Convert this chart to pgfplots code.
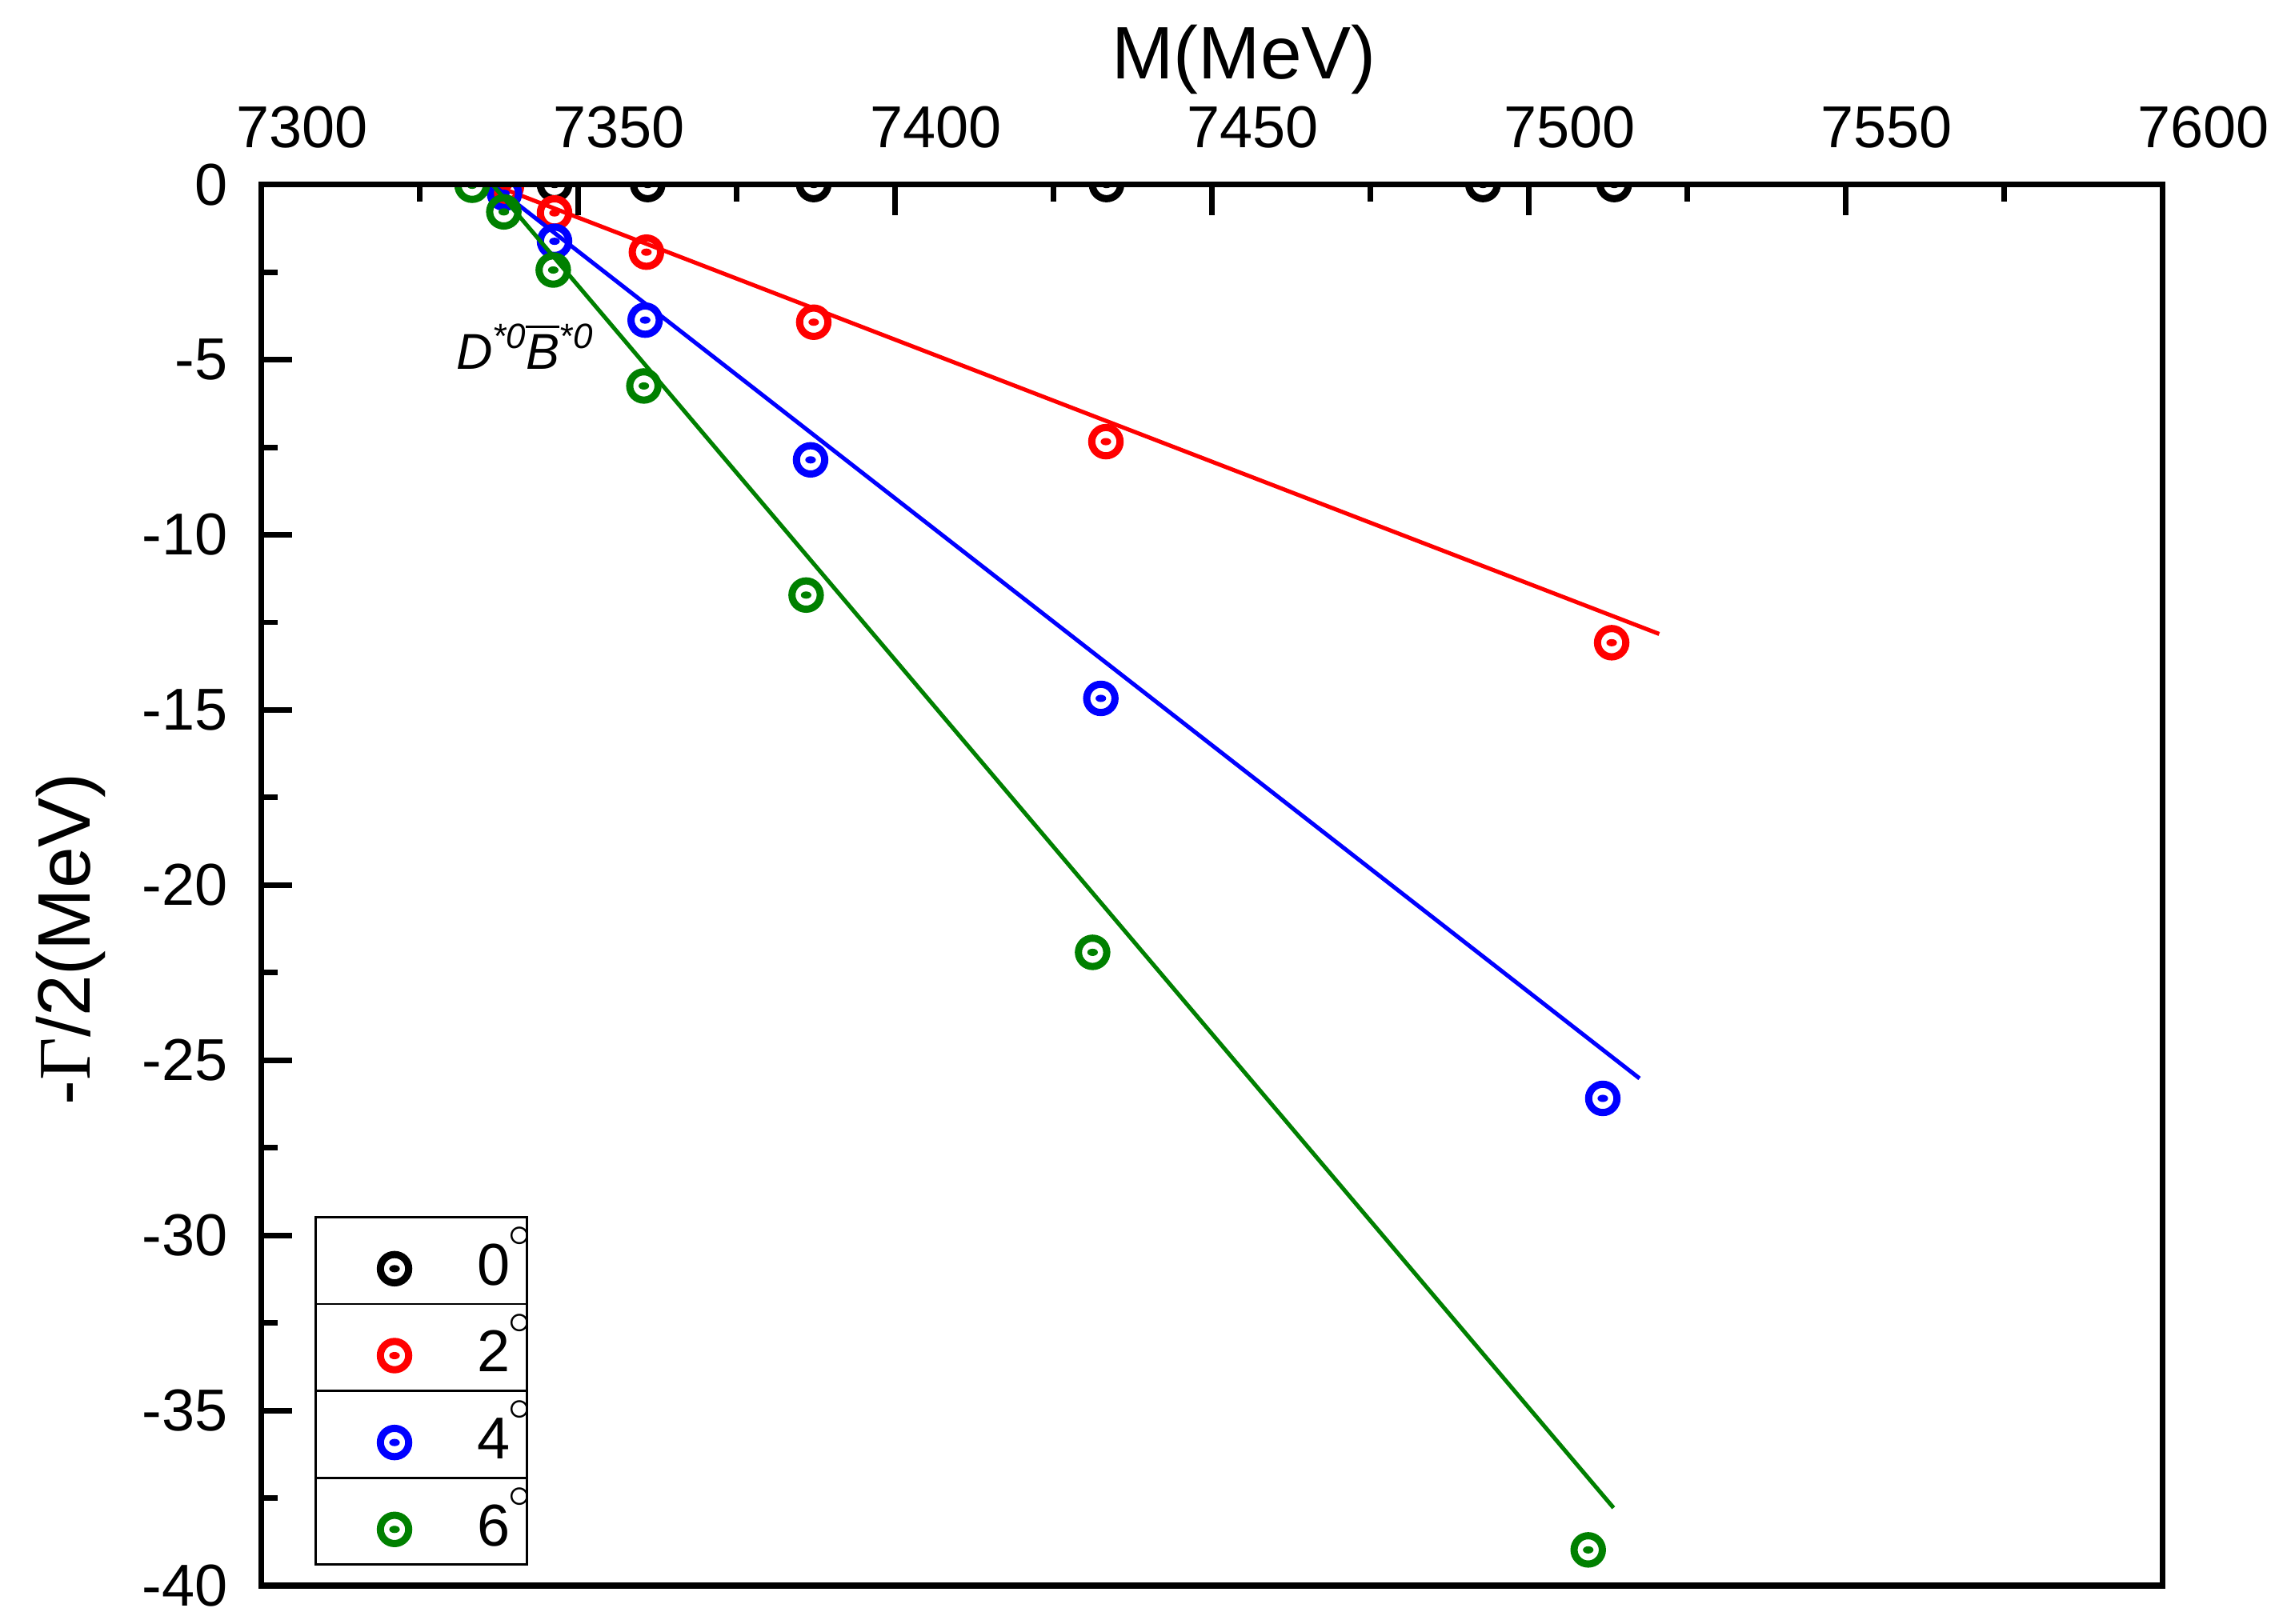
\documentclass[border=0pt]{standalone}
\usepackage{pgfplots}
\pgfplotsset{compat=1.18}
\usepackage{fontspec}
\setmainfont{Liberation Sans}
\newfontfamily\serifgr{Liberation Serif}

\pgfdeclareplotmark{odot}{%
  \pgfpathcircle{\pgfpointorigin}{\pgfplotmarksize}%
  \pgfusepathqstroke
  \pgfpathellipse{\pgfpointorigin}{\pgfqpoint{0.9pt}{0pt}}{\pgfqpoint{0pt}{0.62pt}}%
  \pgfusepathqfill
}
\newcommand{\degs}{\smash{\kern-0.4pt\raisebox{6.6pt}{\fontsize{7}{7}\selectfont$\circ$}}}
\newcommand{\legtxt}[1]{\makebox[8.5pt][l]{#1\degs}}
\newcommand{\sups}[1]{\raisebox{3.6pt}{\fontsize{6}{6}\selectfont #1}}

\begin{document}
\begin{tikzpicture}
\begin{axis}[
  name=ax,
  scale only axis, width=324.8pt, height=239.4pt,
  xmin=7300, xmax=7600, ymin=-40, ymax=0,
  xtick={7300,7350,...,7600}, ytick={-40,-35,...,0},
  minor x tick num=1, minor y tick num=1,
  xtick pos=right, xticklabel pos=right, ytick pos=left,
  tick align=inside,
  major tick length=5.3pt, minor tick length=2.9pt,
  tick style={black, line width=0.95pt},
  axis line style={line width=1pt},
  axis on top,
  clip marker paths=true,
  /pgf/number format/assume math mode=true,
  /pgf/number format/1000 sep={},
  tick label style={font=\fontsize{10.1}{12}\selectfont, inner sep=0pt},
  xticklabel style={anchor=base, yshift=6.25pt, xshift=7pt},
  yticklabel style={anchor=east, xshift=-5.5pt},
  xlabel={M(MeV)},
  ylabel={-{\serifgr Γ}/2(MeV)},
  every axis x label/.style={at={(axis description cs:0.5169,1.0756)}, anchor=base, font=\fontsize{12.7}{15}\selectfont},
  every axis y label/.style={at={(axis description cs:-0.0899,0.4616)}, rotate=90, anchor=base, font=\fontsize{12.7}{15}\selectfont},
  legend style={at={(axis description cs:0.02863,0.01504)}, anchor=south west, draw=black, line width=0.4pt, fill=white, inner sep=0pt, outer sep=0pt, row sep=0pt, column sep=0pt, nodes={inner sep=0pt, font=\fontsize{10.1}{12}\selectfont}},
  legend cell align=left,
  legend image code/.code={\path[draw=none, fill=none] (-13.5pt,-6pt) rectangle (14.1pt,8.85pt); \draw[#1] plot coordinates {(0pt,0pt)};},
]
% 0 degree
\addplot[black, only marks, mark=odot, mark size=2.42pt, mark options={solid, line width=1.23pt}] coordinates {
 (7346.3,0) (7361.0,0) (7387.2,0) (7433.4,0) (7492.8,0) (7513.5,0)};
\addlegendentry{\legtxt{0}}
% 2 degree
\addplot[red, line width=0.7pt, no marks, forget plot] coordinates {(7336.5,0) (7520.6,-12.83)};
\addplot[red, only marks, mark=odot, mark size=2.42pt, mark options={solid, line width=1.23pt}] coordinates {
 (7338.7,-0.06) (7346.3,-0.81) (7360.8,-1.93) (7387.2,-3.93) (7433.3,-7.34) (7513.1,-13.08)};
\addlegendentry{\legtxt{2}}
% 4 degree
\addplot[blue, line width=0.7pt, no marks, forget plot] coordinates {(7336.5,0) (7517.5,-25.52)};
\addplot[blue, only marks, mark=odot, mark size=2.42pt, mark options={solid, line width=1.23pt}] coordinates {
 (7338.4,-0.25) (7346.3,-1.62) (7360.6,-3.87) (7386.7,-7.86) (7432.5,-14.67) (7511.7,-26.09)};
\addlegendentry{\legtxt{4}}
% 6 degree
\addplot[green!50!black, line width=0.7pt, no marks, forget plot] coordinates {(7336.5,0) (7513.4,-37.78)};
\addplot[green!50!black, only marks, mark=odot, mark size=2.42pt, mark options={solid, line width=1.23pt}] coordinates {
 (7333.3,-0.02) (7338.3,-0.78) (7346.1,-2.44) (7360.4,-5.75) (7386.0,-11.72) (7431.2,-21.92) (7509.4,-38.98)};
\addlegendentry{\legtxt{6}}
\node[anchor=base west, inner sep=0pt, font=\fontsize{8.6}{10}\selectfont\itshape] at (axis cs:7330.6,-5.275) {D\sups{*0}$\overline{\mbox{B}}$\sups{*0}};
\end{axis}
\foreach \yy in {18.44,33.28,48.12} \draw[line width=0.4pt] ([shift={(9.3pt,\yy pt)}]ax.south west) -- ++(36.1pt,0);
\pgfresetboundingbox
\path[use as bounding box] ([shift={(-44.6pt,-6.52pt)}]ax.south west) rectangle ([shift={(20.6pt,31.54pt)}]ax.north east);
\end{tikzpicture}
\end{document}
